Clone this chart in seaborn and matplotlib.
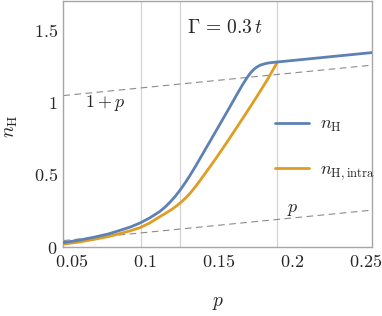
import numpy as np
import pandas as pd
import matplotlib
matplotlib.use("Agg")
import matplotlib.pyplot as plt
import seaborn as sns

# ================= DATA =================
p_H = [0.0443, 0.055, 0.065, 0.075, 0.083, 0.090, 0.0966, 0.103, 0.110, 0.1135,
       0.117, 0.1205, 0.124, 0.1275, 0.131, 0.1345, 0.138, 0.144, 0.1509, 0.157,
       0.162, 0.166, 0.169, 0.1705, 0.172, 0.1738, 0.1758, 0.1775, 0.179, 0.1826,
       0.186, 0.190, 0.2545]
n_H = [0.030, 0.047, 0.067, 0.090, 0.115, 0.138, 0.166, 0.200, 0.245, 0.275,
       0.310, 0.350, 0.396, 0.447, 0.502, 0.561, 0.622, 0.727, 0.848, 0.955,
       1.045, 1.115, 1.163, 1.185, 1.205, 1.224, 1.240, 1.250, 1.257, 1.267,
       1.272, 1.276, 1.341]

p_intra = [0.0443, 0.055, 0.065, 0.075, 0.083, 0.090, 0.0966, 0.103, 0.110, 0.117,
           0.1205, 0.124, 0.1275, 0.131, 0.1345, 0.138, 0.1435, 0.1486, 0.155, 0.162,
           0.169, 0.1758, 0.183, 0.190]
n_intra = [0.020, 0.034, 0.052, 0.072, 0.093, 0.112, 0.134, 0.165, 0.209, 0.252,
           0.277, 0.305, 0.338, 0.376, 0.420, 0.468, 0.545, 0.618, 0.713, 0.820,
           0.928, 1.035, 1.152, 1.276]

# reference lines n = 1 + p and n = p
ref_p = [0.0443, 0.2545]
ref_1p = [1.0443, 1.2545]
ref_pp = [0.0443, 0.2545]

grid_x = [0.0969, 0.1239, 0.1899]
xticks = [0.05, 0.1, 0.15, 0.2, 0.25]
xtick_labels = ["0.05", "0.1", "0.15", "0.2", "0.25"]
yticks = [0, 0.5, 1, 1.5]
ytick_labels = ["0", "0.5", "1", "1.5"]

BLUE = "#5e81b5"
ORANGE = "#e19c24"

# ================= STYLE =================
sns.set_style("white")
plt.rcParams["mathtext.fontset"] = "cm"
plt.rcParams["font.family"] = ["DejaVu Serif"]

fig = plt.figure(figsize=(3.82, 3.16), dpi=100)
ax = fig.add_axes([0.1657, 0.2184, 0.8089, 0.7800])

for gx in grid_x:
    ax.axvline(gx, color="#d4d4d4", lw=0.9, zorder=0)

ax.plot(ref_p, ref_1p, color="#8c8c8c", lw=0.8, ls=(0, (6, 4)), zorder=1)
ax.plot(ref_p, ref_pp, color="#8c8c8c", lw=0.8, ls=(0, (6, 4)), zorder=1)

df_H = pd.DataFrame({"p": p_H, "n": n_H})
df_intra = pd.DataFrame({"p": p_intra, "n": n_intra})
sns.lineplot(data=df_H, x="p", y="n", color=BLUE, lw=2.0, ax=ax,
             label=r"$n_{\mathrm{H}}$", sort=False, zorder=3)
sns.lineplot(data=df_intra, x="p", y="n", color=ORANGE, lw=2.0, ax=ax,
             label=r"$n_{\mathrm{H,intra}}$", sort=False, zorder=2)

ax.set_xlim(0.0443, 0.2545)
ax.set_ylim(0, 1.7)
ax.set_xticks(xticks)
ax.set_xticklabels(["$" + t + "$" for t in xtick_labels], fontsize=13)
ax.set_yticks(yticks)
ax.set_yticklabels(["$" + t + "$" for t in ytick_labels], fontsize=13)
ax.tick_params(direction="in", length=4, width=0.8, color="#999999", pad=4)

for s in ax.spines.values():
    s.set_color("#a6a6a6")
    s.set_linewidth(1.0)

ax.set_xlabel(r"$p$", fontsize=14)
ax.set_ylabel(r"$n_{\mathrm{H}}$", fontsize=14)
ax.xaxis.set_label_coords(0.5, -0.19)
ax.yaxis.set_label_coords(-0.14, 0.49)

ax.text(0.1543, 1.51, r"$\Gamma\,=\,0.3\,t$", fontsize=14, ha="center", va="center")
ax.text(0.0727, 0.99, r"$1+p$", fontsize=13, ha="center", va="center")
ax.text(0.2007, 0.26, r"$p$", fontsize=13, ha="center", va="center")

ax.legend(loc="upper left", bbox_to_anchor=(0.685, 0.535), frameon=False,
          fontsize=13, handlelength=1.9, handletextpad=0.6, labelspacing=1.45,
          borderpad=0, borderaxespad=0)

fig.savefig("out.png", dpi=100)
